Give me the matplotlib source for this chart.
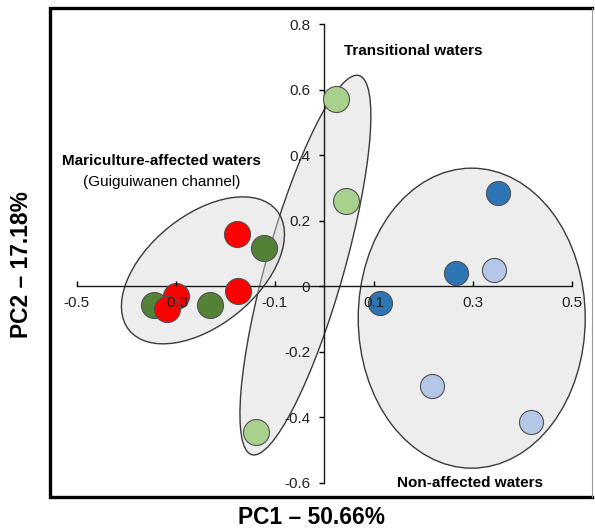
import numpy as np
import matplotlib
matplotlib.use('Agg')
import matplotlib.pyplot as plt
from matplotlib.patches import Ellipse
from matplotlib.transforms import ScaledTranslation

plt.rcParams['font.family'] = ['Liberation Sans', 'DejaVu Sans']

# PCA scores (PC1, PC2)
red_pc1 = [-0.177, -0.174, -0.299, -0.317]
red_pc2 = [0.158, -0.014, -0.030, -0.070]
dkgreen_pc1 = [-0.122, -0.344, -0.230]
dkgreen_pc2 = [0.117, -0.058, -0.058]
ltgreen_pc1 = [0.023, 0.045, -0.138]
ltgreen_pc2 = [0.571, 0.260, -0.445]
dkblue_pc1 = [0.351, 0.266, 0.112]
dkblue_pc2 = [0.285, 0.041, -0.051]
ltblue_pc1 = [0.344, 0.217, 0.417]
ltblue_pc2 = [0.049, -0.305, -0.414]

xticks = [-0.5, -0.3, -0.1, 0.1, 0.3, 0.5]
xticklabels = ['-0.5', '-0.3', '-0.1', '0.1', '0.3', '0.5']
yticks = [-0.6, -0.4, -0.2, 0, 0.2, 0.4, 0.6, 0.8]
yticklabels = ['-0.6', '-0.4', '-0.2', '0', '0.2', '0.4', '0.6', '0.8']

fig = plt.figure(figsize=(5.95, 5.30), dpi=100)
ax = fig.add_axes([50/595, 33/530, 542/595, 489/530])
ax.set_xlim(-0.554, 0.541)
ax.set_ylim(-0.644, 0.849)

#group ellipses, sizes in pixels
def group_ellipse(cx, cy, w, h, angle):
    tr = fig.dpi_scale_trans + ScaledTranslation(cx, cy, ax.transData)
    e = Ellipse((0, 0), w/100, h/100, angle=angle, transform=tr,
                facecolor=(0.85, 0.85, 0.85, 0.45), edgecolor='#3a3a3a', lw=1.0, zorder=1)
    ax.add_patch(e)

group_ellipse(-0.038, 0.064, 394, 78, 74.2)
group_ellipse(-0.245, 0.048, 190, 110, 39)
group_ellipse(0.298, -0.098, 227, 300, 0)

#points
ax.scatter(dkgreen_pc1, dkgreen_pc2, s=350, c='#538135', edgecolors='#505050', linewidths=0.8, zorder=3)
ax.scatter(red_pc1, red_pc2, s=350, c='#FF0000', edgecolors='#505050', linewidths=0.8, zorder=3)
ax.scatter(ltgreen_pc1, ltgreen_pc2, s=350, c='#A9D18E', edgecolors='#505050', linewidths=0.8, zorder=3)
ax.scatter(dkblue_pc1, dkblue_pc2, s=300, c='#2E75B6', edgecolors='#505050', linewidths=0.8, zorder=3)
ax.scatter(ltblue_pc1, ltblue_pc2, s=300, c='#B4C7E7', edgecolors='#505050', linewidths=0.8, zorder=3)

#axes through origin
ax.spines['top'].set_visible(False)
ax.spines['right'].set_visible(False)
ax.spines['left'].set_position(('data', 0))
ax.spines['bottom'].set_position(('data', 0))
ax.spines['left'].set_bounds(-0.6, 0.8)
ax.spines['bottom'].set_bounds(-0.5, 0.5)
for s in ['left', 'bottom']:
    ax.spines[s].set_linewidth(1.0)
    ax.spines[s].set_color('#1a1a1a')

ax.set_xticks(xticks)
ax.set_xticklabels(xticklabels)
ax.set_yticks(yticks)
ax.set_yticklabels(yticklabels)
ax.tick_params(axis='x', direction='in', length=3.6, width=1.0, pad=7, labelsize=11, labelcolor='#222222')
ax.tick_params(axis='y', direction='out', length=3.6, width=1.0, pad=6.5, labelsize=11, labelcolor='#222222')
ax.xaxis.set_zorder(4)
ax.yaxis.set_zorder(4)

#outer frame
ax.plot([1, 0, 0, 1], [0, 0, 1, 1], transform=ax.transAxes, color='black', lw=2.4,
        clip_on=False, solid_joinstyle='miter', zorder=5)
ax.plot([1, 1], [0, 1], transform=ax.transAxes, color='#999999', lw=0.8, clip_on=False, zorder=5)

#group labels
ax.text(0.179, 0.718, 'Transitional waters', fontsize=11, fontweight='bold', ha='center', va='center')
ax.text(-0.328, 0.383, 'Mariculture-affected waters', fontsize=11, fontweight='bold', ha='center', va='center')
ax.text(-0.328, 0.319, '(Guiguiwanen channel)', fontsize=11, ha='center', va='center')
ax.text(0.294, -0.602, 'Non-affected waters', fontsize=11, fontweight='bold', ha='center', va='center')

fig.text(311/595, 1-517/530, 'PC1 – 50.66%', fontsize=16.4, fontweight='bold', ha='center', va='center')
fig.text(22/595, 1-265/530, 'PC2 – 17.18%', fontsize=16.4, fontweight='bold', rotation=90, ha='center', va='center')

fig.savefig('out.png', dpi=100)
